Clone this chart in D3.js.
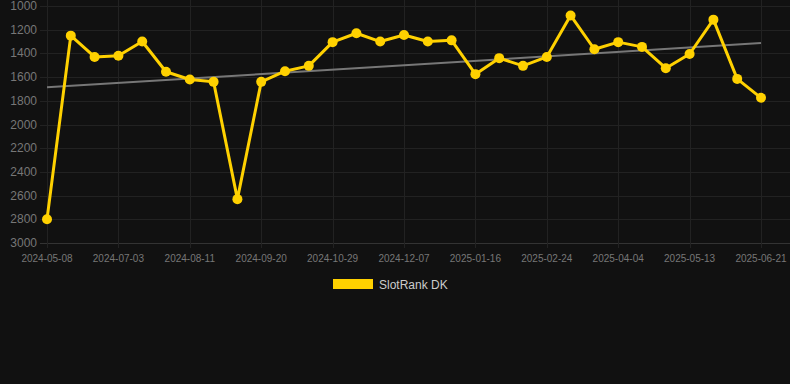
<!DOCTYPE html>
<html>
<head>
<meta charset="utf-8">
<script src="https://cdn.jsdelivr.net/npm/d3@7"></script>
<style>
  html, body { margin: 0; padding: 0; background: #111111; }
  svg { display: block; font-family: "Liberation Sans", Arial, sans-serif; }
</style>
</head>
<body>
<div id="chart"></div>
<script>
// Dates (category axis), ranks, tick labels
const dates = [
    "2024-05-08", "2024-05-27", "2024-06-14", "2024-07-03", "2024-07-16", "2024-07-29",
    "2024-08-11", "2024-08-24", "2024-09-07", "2024-09-20", "2024-10-03", "2024-10-16",
    "2024-10-29", "2024-11-11", "2024-11-24", "2024-12-07", "2024-12-20", "2025-01-03",
    "2025-01-16", "2025-01-29", "2025-02-11", "2025-02-24", "2025-03-09", "2025-03-22",
    "2025-04-04", "2025-04-17", "2025-04-30", "2025-05-13", "2025-05-26", "2025-06-08",
    "2025-06-21"
];
const ranks = [
    2800, 1250, 1430, 1420, 1300, 1555, 1620, 1640, 2630, 1640, 1550, 1505,
    1305, 1230, 1300, 1245, 1300, 1290, 1575, 1440, 1505, 1430, 1080, 1365,
    1305, 1345, 1525, 1405, 1115, 1615, 1775
];
const yTicks = [1000, 1200, 1400, 1600, 1800, 2000, 2200, 2400, 2600, 2800, 3000];
const seriesName = "SlotRank DK";

const width = 790, height = 384;
const plotLeft = 47, plotRight = 761, plotTop = 6, plotBottom = 243;

const svg = d3.select("#chart").append("svg")
    .attr("width", width)
    .attr("height", height);

svg.append("rect").attr("width", width).attr("height", height).attr("fill", "#111111");

const x = d3.scalePoint().domain(dates).range([plotLeft, plotRight]);
const y = d3.scaleLinear().domain([1000, 3000]).range([plotTop, plotBottom]);

// --- Grid ---
const tickDates = dates.filter((d, i) => i % 3 === 0);

svg.append("g").selectAll("line")
    .data(yTicks)
    .enter().append("line")
    .attr("x1", 40).attr("x2", width)
    .attr("y1", d => Math.round(y(d)) + 0.5).attr("y2", d => Math.round(y(d)) + 0.5)
    .attr("stroke", d => d === 3000 ? "#333333" : "#222222")
    .attr("stroke-width", 1);

svg.append("g").selectAll("line")
    .data(tickDates)
    .enter().append("line")
    .attr("x1", d => Math.round(x(d)) + 0.5).attr("x2", d => Math.round(x(d)) + 0.5)
    .attr("y1", 0).attr("y2", plotBottom + 5)
    .attr("stroke", "#222222")
    .attr("stroke-width", 1);

// --- Axes labels ---
svg.append("g").selectAll("text")
    .data(yTicks)
    .enter().append("text")
    .attr("x", 37)
    .attr("y", d => y(d) + 4)
    .attr("text-anchor", "end")
    .attr("fill", "#777777")
    .style("font-size", "12px")
    .text(d => d);

svg.append("g").selectAll("text")
    .data(tickDates)
    .enter().append("text")
    .attr("x", d => x(d))
    .attr("y", 262)
    .attr("text-anchor", "middle")
    .attr("fill", "#777777")
    .style("font-size", "10px")
    .text(d => d);

// --- Trend line (least squares over index) ---
const n = ranks.length;
const mx = d3.mean(ranks, (d, i) => i);
const my = d3.mean(ranks);
const slope = d3.sum(ranks, (d, i) => (i - mx) * (d - my)) / d3.sum(ranks, (d, i) => (i - mx) * (i - mx));
const icpt = my - slope * mx;

svg.append("line")
    .attr("x1", x(dates[0])).attr("y1", y(icpt))
    .attr("x2", x(dates[n - 1])).attr("y2", y(icpt + slope * (n - 1)))
    .attr("stroke", "#777777")
    .attr("stroke-width", 2);

// --- Series ---
const line = d3.line()
    .x((d, i) => x(dates[i]))
    .y(d => y(d));

svg.append("path")
    .datum(ranks)
    .attr("d", line)
    .attr("fill", "none")
    .attr("stroke", "#FFD100")
    .attr("stroke-width", 3)
    .attr("stroke-linejoin", "round");

svg.append("g").selectAll("circle")
    .data(ranks)
    .enter().append("circle")
    .attr("cx", (d, i) => x(dates[i]))
    .attr("cy", d => y(d))
    .attr("r", 5)
    .attr("fill", "#FFD100");

// --- Legend ---
svg.append("rect")
    .attr("x", 333).attr("y", 279)
    .attr("width", 40).attr("height", 10)
    .attr("fill", "#FFD100");

svg.append("text")
    .attr("x", 379).attr("y", 288.5)
    .attr("fill", "#cccccc")
    .style("font-size", "12px")
    .text(seriesName);
</script>
</body>
</html>
